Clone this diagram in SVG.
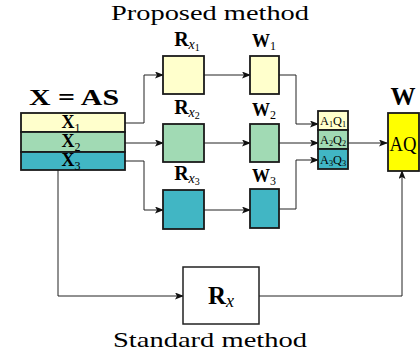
<svg xmlns="http://www.w3.org/2000/svg" width="420" height="356" viewBox="0 0 420 356">
<style>
text{font-family:"Liberation Serif","DejaVu Serif",serif;fill:#000}
.b{font-weight:bold}
.box{stroke:#1a1a1a;stroke-width:1.8}
.c1{fill:#ffffcc}.c2{fill:#a1dab4}.c3{fill:#41b6c4}
.ln{fill:none;stroke:#222;stroke-width:1}
.rl{font-size:20px}
.wl{font-size:18px}
.xl{font-size:18px}
.aq{font-size:12px}
</style>
<defs>
<marker id="ar" markerWidth="9" markerHeight="7" refX="8" refY="3.5" orient="auto" markerUnits="userSpaceOnUse">
<path d="M0,0 L9,3.5 L0,7 L2,3.5 Z" fill="#111"/>
</marker>
</defs>
<rect width="420" height="356" fill="#fff"/>
<text x="210" y="20" font-size="22" text-anchor="middle" textLength="198" lengthAdjust="spacingAndGlyphs">Proposed method</text>
<text x="210" y="347" font-size="22" text-anchor="middle" textLength="194" lengthAdjust="spacingAndGlyphs">Standard method</text>
<g id="connectors">
<polyline class="ln" points="125,123 144,123 144,75 163,75" marker-end="url(#ar)"/>
<line class="ln" x1="125" y1="143" x2="163" y2="143" marker-end="url(#ar)"/>
<polyline class="ln" points="125,161 144,161 144,210 163,210" marker-end="url(#ar)"/>
<line class="ln" x1="204" y1="75" x2="250" y2="75" marker-end="url(#ar)"/>
<line class="ln" x1="204" y1="143" x2="250" y2="143" marker-end="url(#ar)"/>
<line class="ln" x1="204" y1="210" x2="250" y2="210" marker-end="url(#ar)"/>
<polyline class="ln" points="279,75 296,75 296,124 318,124" marker-end="url(#ar)"/>
<line class="ln" x1="279" y1="143" x2="318" y2="143" marker-end="url(#ar)"/>
<polyline class="ln" points="279,209 296,209 296,160 318,160" marker-end="url(#ar)"/>
<line class="ln" x1="348" y1="143" x2="387" y2="143" marker-end="url(#ar)"/>
<polyline class="ln" points="58,170 58,296 183,296" marker-end="url(#ar)"/>
<polyline class="ln" points="259,296 402,296 402,171" marker-end="url(#ar)"/>
</g>
<g id="X">
<text x="74" y="105" font-size="23" text-anchor="middle" class="b" textLength="90" lengthAdjust="spacingAndGlyphs">X = AS</text>
<rect class="box c1" x="21" y="113" width="104" height="19"/>
<rect class="box c2" x="21" y="132" width="104" height="20"/>
<rect class="box c3" x="21" y="152" width="104" height="18"/>
<text class="xl" x="71" y="128" text-anchor="middle"><tspan class="b">X</tspan><tspan font-size="12" dy="4">1</tspan></text>
<text class="xl" x="71" y="147" text-anchor="middle"><tspan class="b">X</tspan><tspan font-size="12" dy="4">2</tspan></text>
<text class="xl" x="71" y="166" text-anchor="middle"><tspan class="b">X</tspan><tspan font-size="12" dy="4">3</tspan></text>
</g>
<g id="Rx1">
<text class="rl" x="187" y="46" text-anchor="middle"><tspan class="b">R</tspan><tspan font-size="14" font-style="italic" dy="3">x</tspan><tspan font-size="10" dy="2">1</tspan></text>
<rect class="box c1" x="163" y="56" width="41" height="38"/>
</g>
<g id="W1">
<text class="wl" x="264" y="47" text-anchor="middle"><tspan class="b">W</tspan><tspan font-size="12" dy="3">1</tspan></text>
<rect class="box c1" x="250" y="56" width="29" height="38"/>
</g>
<g id="Rx2">
<text class="rl" x="187" y="114" text-anchor="middle"><tspan class="b">R</tspan><tspan font-size="14" font-style="italic" dy="3">x</tspan><tspan font-size="10" dy="2">2</tspan></text>
<rect class="box c2" x="163" y="124" width="41" height="38"/>
</g>
<g id="W2">
<text class="wl" x="264" y="116" text-anchor="middle"><tspan class="b">W</tspan><tspan font-size="12" dy="3">2</tspan></text>
<rect class="box c2" x="250" y="124" width="29" height="38"/>
</g>
<g id="Rx3">
<text class="rl" x="187" y="180" text-anchor="middle"><tspan class="b">R</tspan><tspan font-size="14" font-style="italic" dy="3">x</tspan><tspan font-size="10" dy="2">3</tspan></text>
<rect class="box c3" x="163" y="190" width="41" height="39"/>
</g>
<g id="W3">
<text class="wl" x="264" y="182" text-anchor="middle"><tspan class="b">W</tspan><tspan font-size="12" dy="3">3</tspan></text>
<rect class="box c3" x="250" y="189" width="29" height="39"/>
</g>
<g id="AQ">
<rect class="box c1" x="318" y="111" width="30" height="19"/>
<rect class="box c2" x="318" y="130" width="30" height="19"/>
<rect class="box c3" x="318" y="149" width="30" height="20"/>
<text class="aq" x="333" y="125" text-anchor="middle" textLength="26" lengthAdjust="spacingAndGlyphs">A<tspan font-size="8" dy="2">1</tspan><tspan dy="-2">Q</tspan><tspan font-size="8" dy="2">1</tspan></text>
<text class="aq" x="333" y="144" text-anchor="middle" textLength="26" lengthAdjust="spacingAndGlyphs">A<tspan font-size="8" dy="2">2</tspan><tspan dy="-2">Q</tspan><tspan font-size="8" dy="2">2</tspan></text>
<text class="aq" x="333" y="164" text-anchor="middle" textLength="26" lengthAdjust="spacingAndGlyphs">A<tspan font-size="8" dy="2">3</tspan><tspan dy="-2">Q</tspan><tspan font-size="8" dy="2">3</tspan></text>
</g>
<g id="W">
<text x="403" y="105" font-size="25" text-anchor="middle" class="b">W</text>
<rect class="box" fill="#ffff00" x="388" y="113" width="31" height="58"/>
<text x="403" y="151" font-size="20" text-anchor="middle" textLength="27" lengthAdjust="spacingAndGlyphs">AQ</text>
</g>
<g id="Rx">
<rect x="183" y="267" width="76" height="57" fill="#fff" stroke="#222" stroke-width="1.5"/>
<text x="221" y="304" font-size="25" text-anchor="middle"><tspan class="b">R</tspan><tspan font-style="italic" font-size="18" dy="3">x</tspan></text>
</g>
</svg>
